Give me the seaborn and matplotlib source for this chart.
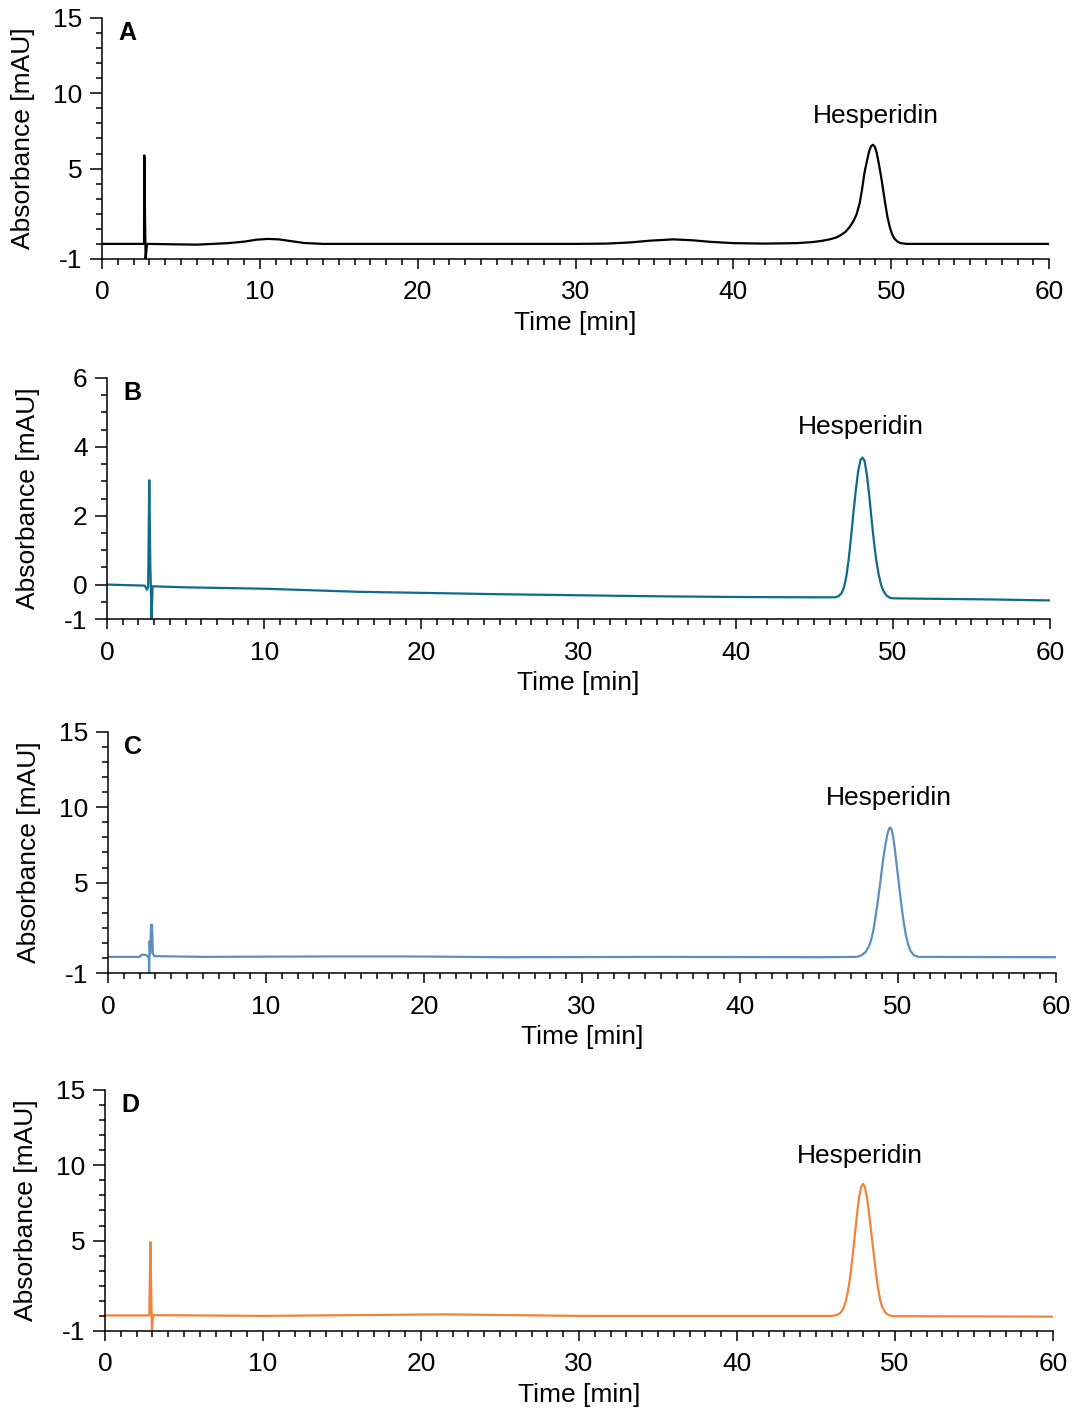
import matplotlib
matplotlib.use("Agg")
import matplotlib.pyplot as plt
import seaborn as sns
import numpy as np
from matplotlib.ticker import MultipleLocator, FixedLocator

# =====
# data (time in min, absorbance in mAU)

time_a = [0, 2.6, 2.66, 2.68, 2.72, 2.76, 2.82, 2.86, 6, 7, 8, 9, 9.8, 10.5, 11.2, 12, 12.8, 14,
          20, 30, 32, 33.5, 34.8, 36.2, 37.4, 38.5, 40, 42, 44, 45, 45.6, 46.1, 46.5, 46.8, 47.1,
          47.35, 47.6, 47.8, 48.0, 48.15, 48.3, 48.45, 48.6, 48.72, 48.84, 48.96, 49.08, 49.2,
          49.32, 49.45, 49.6, 49.75, 49.9, 50.05, 50.2, 50.4, 50.6, 51, 55, 60]
abs_a = [0, 0, 0, 5.87, 2, -1, -0.3, 0, -0.05, 0, 0.05, 0.15, 0.28, 0.33, 0.3, 0.18, 0.06, 0,
         0, 0, 0.02, 0.1, 0.22, 0.3, 0.24, 0.14, 0.05, 0.02, 0.05, 0.12, 0.2, 0.3, 0.42, 0.58, 0.8,
         1.1, 1.5, 1.95, 2.7, 3.6, 4.7, 5.45, 6.15, 6.48, 6.58, 6.45, 6.05, 5.4,
         4.7, 3.85, 2.8, 1.85, 1.15, 0.65, 0.35, 0.15, 0.05, 0, 0, 0]

time_b = [0, 2.4, 2.55, 2.62, 2.69, 2.76, 2.84, 2.9, 5, 10, 16, 20, 25, 30, 35, 40, 45,
          46.3, 46.55, 46.75, 46.9, 47.05, 47.2, 47.35, 47.5, 47.65, 47.8, 47.95, 48.07, 48.2,
          48.35, 48.5, 48.65, 48.8, 48.95, 49.1, 49.25, 49.4, 49.6, 49.85, 50.1, 52, 56, 60]
abs_b = [0, -0.03, -0.15, -0.05, 3.03, 0.5, -1.0, -0.05, -0.08, -0.12, -0.21, -0.24, -0.28, -0.31,
         -0.34, -0.36, -0.37, -0.37, -0.34, -0.24, -0.08, 0.25, 0.75, 1.4, 2.1, 2.75, 3.3, 3.62,
         3.69, 3.6, 3.2, 2.6, 1.9, 1.25, 0.7, 0.3, 0.0, -0.18, -0.32, -0.39, -0.4, -0.41, -0.43,
         -0.46]

time_c = [0, 2.0, 2.13, 2.4, 2.5, 2.58, 2.6, 2.63, 2.67, 2.72, 2.78, 2.84, 2.92, 6, 14, 19, 25,
          35, 45, 47.4, 47.7, 47.95, 48.15, 48.3, 48.45, 48.6, 48.75, 48.9, 49.05, 49.2, 49.32,
          49.42, 49.5, 49.6, 49.7, 49.8, 49.9, 50.0, 50.1, 50.2, 50.3, 50.4, 50.5, 50.65, 50.8,
          51.0, 51.3, 60]
abs_c = [0.07, 0.07, 0.22, 0.2, 0.1, 0.1, -1.0, 1.1, 0.3, 2.2, 2.2, 0.3, 0.12, 0.07, 0.1, 0.1, 0.05,
         0.07, 0.05, 0.07, 0.18, 0.4, 0.75, 1.2, 1.9, 2.9, 4.0, 5.2, 6.5, 7.5, 8.2,
         8.55, 8.67, 8.5, 8.0, 7.2, 6.3, 5.4, 4.5, 3.6, 2.8, 2.1, 1.5, 0.85, 0.45,
         0.18, 0.07, 0.05]

time_d = [0, 2.8, 2.87, 2.93, 2.97, 3.02, 3.06, 10, 21.5, 30, 40, 46.0, 46.3, 46.55, 46.75, 46.9,
          47.05, 47.2, 47.35, 47.5, 47.62, 47.74, 47.86, 47.97, 48.08, 48.2, 48.32, 48.45, 48.6,
          48.75, 48.9, 49.05, 49.2, 49.4, 49.6, 49.85, 60]
abs_d = [0.03, 0.03, 4.9, 1.0, -1.0, -0.2, 0.05, 0.0, 0.1, 0.0, 0.0, 0.0, 0.05, 0.2, 0.55, 1.05,
         1.8, 2.9, 4.3, 5.8, 7.0, 7.95, 8.55, 8.77, 8.6, 8.0, 7.1, 5.95, 4.6,
         3.2, 2.0, 1.1, 0.55, 0.2, 0.05, -0.02, -0.05]

panel_letters = ["A", "B", "C", "D"]
trace_colors = ["#000000", "#0d6b8a", "#5b8ec2", "#f0843a"]
y_tops = [15, 6, 15, 15]
y_major = [[15, 10, 5, -1], [6, 4, 2, 0, -1], [15, 10, 5, -1], [15, 10, 5, -1]]
y_minor_step = [1, 0.5, 1, 1]
peak_label_pos = [(49.0, 8.5), (48.0, 4.58), (49.4, 10.6), (47.8, 10.6)]
letter_y = [14.0, 5.56, 14.0, 14.0]

# axes boxes in figure fraction (left, bottom, width, height)
axes_boxes = [
    (0.0951, 0.8166, 0.8826, 0.1707),
    (0.0997, 0.5616, 0.8788, 0.1707),
    (0.1007, 0.3109, 0.8835, 0.1707),
    (0.0979, 0.0574, 0.8835, 0.1707),
]

traces = [(time_a, abs_a), (time_b, abs_b), (time_c, abs_c), (time_d, abs_d)]

# ====
# plot

sns.set_style("ticks")
plt.rcParams['font.family'] = ['Liberation Sans', 'DejaVu Sans']
plt.rcParams['axes.linewidth'] = 1.1
plt.rcParams['text.color'] = 'black'
plt.rcParams['axes.labelcolor'] = 'black'
plt.rcParams['axes.edgecolor'] = 'black'
plt.rcParams['axes.unicode_minus'] = False

fs = 19

fig = plt.figure(figsize=(10.73, 14.12), dpi=100)

for i, (t, a) in enumerate(traces):
    ax = fig.add_axes(axes_boxes[i])
    sns.lineplot(x=t, y=a, ax=ax, color=trace_colors[i], linewidth=1.6,
                 estimator=None, sort=False)
    ax.set_xlim(0, 60)
    ax.set_ylim(-1, y_tops[i])
    sns.despine(ax=ax)

    ax.xaxis.set_major_locator(MultipleLocator(10))
    ax.xaxis.set_minor_locator(MultipleLocator(1))
    ax.yaxis.set_major_locator(FixedLocator(y_major[i]))
    ax.yaxis.set_minor_locator(MultipleLocator(y_minor_step[i]))
    ax.tick_params(axis="both", which="both", width=1.1, colors="black")
    ax.tick_params(axis="both", which="major", labelsize=fs)
    ax.tick_params(axis="x", which="major", length=7.5, pad=8)
    ax.tick_params(axis="y", which="major", length=9, pad=5)
    ax.tick_params(axis="both", which="minor", length=4.5)

    ax.set_xlabel("Time [min]", fontsize=fs)
    ax.set_ylabel("Absorbance [mAU]", fontsize=fs)
    ax.xaxis.set_label_coords(0.5, -0.215)
    ax.yaxis.set_label_coords(-0.071, 0.5)

    ax.text(1.6, letter_y[i], panel_letters[i], fontsize=18, fontweight="bold",
            ha="center", va="center")
    px, py = peak_label_pos[i]
    ax.text(px, py, "Hesperidin", fontsize=fs, ha="center", va="center")

plt.savefig("out.png", dpi=100)
